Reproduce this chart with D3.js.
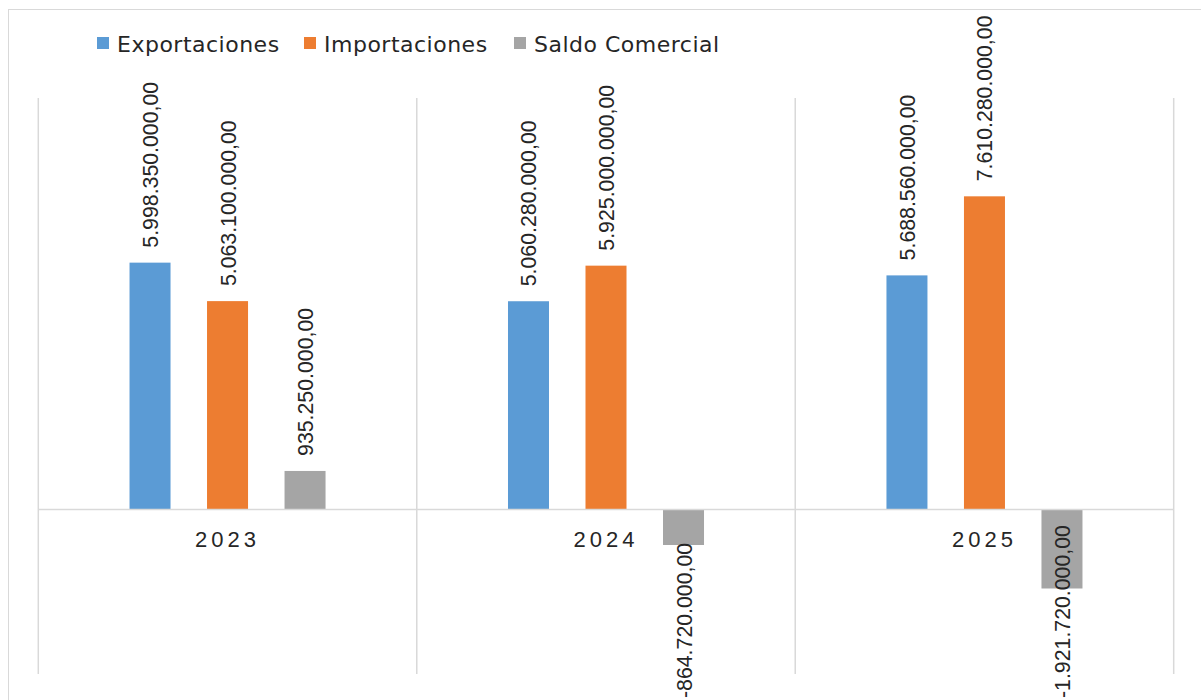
<!DOCTYPE html>
<html><head><meta charset="utf-8">
<script src="https://cdn.jsdelivr.net/npm/d3@7"></script>
<style>
html,body{margin:0;padding:0;background:#fff;}
svg{display:block;}
</style></head>
<body>
<svg id="chart" width="1201" height="700"></svg>
<script>
const years = ["2023", "2024", "2025"];
const seriesNames = ["Exportaciones", "Importaciones", "Saldo Comercial"];
const exportaciones = [5998350000, 5060280000, 5688560000];
const importaciones = [5063100000, 5925000000, 7610280000];
const saldoComercial = [935250000, -864720000, -1921720000];
const seriesColors = ["#5b9bd5", "#ed7d31", "#a5a5a5"];
const yDomain = [-4000000000, 10000000000];

const seriesValues = [exportaciones, importaciones, saldoComercial];
const W = 1201, H = 700;
const svg = d3.select("#chart");
const plot = {left: 38.3, right: 1173.7, top: 98, bottom: 674};
const textColor = "#262626";
const gridColor = "#d9d9d9";

// chart frame
svg.append("rect").attr("x", 8.5).attr("y", 9.5).attr("width", 1400).attr("height", 900)
  .attr("fill", "#fff").attr("stroke", gridColor).attr("stroke-width", 1);

const x0 = d3.scaleBand().domain(years).range([plot.left, plot.right]).paddingInner(0).paddingOuter(0);
const x1 = d3.scaleBand().domain(seriesNames).range([0, x0.bandwidth()]).paddingInner(0.471).paddingOuter(1.177);
const y = d3.scaleLinear().domain(yDomain).range([plot.bottom, plot.top]);

// category separators
const sepX = years.map(d => x0(d)).concat([x0(years[years.length - 1]) + x0.bandwidth()]);
svg.append("g").selectAll("line").data(sepX).join("line")
  .attr("x1", d => d).attr("x2", d => d)
  .attr("y1", plot.top).attr("y2", plot.bottom)
  .attr("stroke", gridColor).attr("stroke-width", 1.5);

// bars
const data = [];
years.forEach((yr, i) => seriesNames.forEach((s, j) => data.push({year: yr, series: s, value: seriesValues[j][i], color: seriesColors[j]})));

svg.append("g").selectAll("rect").data(data).join("rect")
  .attr("x", d => x0(d.year) + x1(d.series))
  .attr("width", x1.bandwidth())
  .attr("y", d => y(Math.max(0, d.value)))
  .attr("height", d => Math.abs(y(d.value) - y(0)))
  .attr("fill", d => d.color);

// zero axis line
svg.append("line").attr("x1", plot.left).attr("x2", plot.right)
  .attr("y1", y(0)).attr("y2", y(0))
  .attr("stroke", gridColor).attr("stroke-width", 1.5);

// year labels
const xAxis = d3.axisBottom(x0).tickSize(0).tickPadding(0);
const gx = svg.append("g").attr("transform", `translate(0,${y(0)})`).call(xAxis);
gx.select(".domain").remove();
gx.selectAll("text")
  .attr("y", 38).attr("dy", 0)
  .attr("dx", 0)
  .style("font-family", "'Liberation Sans', Arial, sans-serif")
  .style("font-size", "22px")
  .style("letter-spacing", "4px")
  .attr("fill", textColor);

// value labels
const fmt = v => {
  const neg = v < 0;
  const a = Math.abs(v);
  const intPart = Math.floor(a).toString().replace(/\B(?=(\d{3})+(?!\d))/g, ".");
  return (neg ? "-" : "") + intPart + ",00";
};
const gap = 15;
const labels = svg.append("g").selectAll("text").data(data).join("text")
  .text(d => fmt(d.value))
  .style("font-family", "'Liberation Sans', Arial, sans-serif")
  .style("font-size", "21.3px")
  .attr("fill", textColor)
  .attr("text-anchor", "start");
labels.each(function(d) {
  const len = this.getComputedTextLength();
  const cx = x0(d.year) + x1(d.series) + x1.bandwidth() / 2;
  let sy;
  if (d.value >= 0) sy = y(d.value) - gap;
  else sy = Math.min(y(d.value) + gap + len, H - 2);
  d3.select(this).attr("transform", `translate(${cx + 8},${sy}) rotate(-90)`);
});

// legend
const legendX = [97, 304, 514];
const lg = svg.append("g").selectAll("g").data(seriesNames).join("g")
  .attr("transform", (d, i) => `translate(${legendX[i]},0)`);
lg.append("rect").attr("x", 0).attr("y", 37).attr("width", 12).attr("height", 12)
  .attr("fill", (d, i) => seriesColors[i]);
lg.append("text").attr("x", 20).attr("y", 52).text(d => d)
  .style("font-family", "'DejaVu Sans', sans-serif")
  .style("font-size", "22px")
  .style("letter-spacing", "0.5px")
  .attr("fill", textColor);
</script>
</body></html>
